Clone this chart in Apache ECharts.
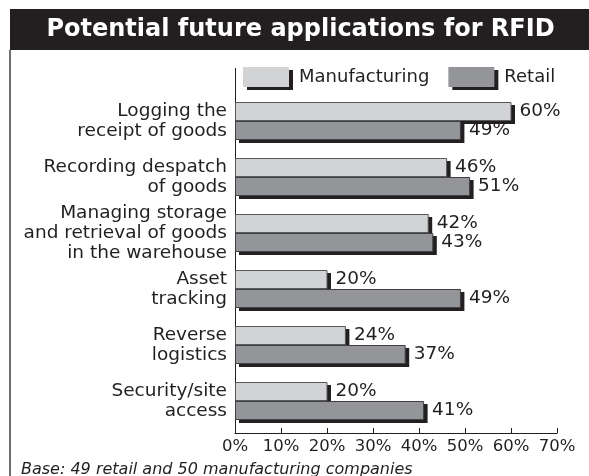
<!DOCTYPE html>
<html>
<head>
<meta charset="utf-8">
<script src="https://cdn.jsdelivr.net/npm/echarts@6/dist/echarts.min.js"></script>
<style>html,body{margin:0;padding:0;background:#fff;}#c{width:589px;height:476px;}</style>
</head>
<body>
<div id="c"></div>
<script>
const categories = [
  'Logging the\nreceipt of goods',
  'Recording despatch\nof goods',
  'Managing storage\nand retrieval of goods\nin the warehouse',
  'Asset\ntracking',
  'Reverse\nlogistics',
  'Security/site\naccess'
];
const manufacturing = [60, 46, 42, 20, 24, 20];
const retail = [49, 51, 43, 49, 37, 41];
const seriesNames = ['Manufacturing', 'Retail'];
const xTicks = { min: 0, max: 70, interval: 10 };
const titleText = 'Potential future applications for RFID';
const footnote = 'Base: 49 retail and 50 manufacturing companies';

const FONT = 'DejaVu Sans';
const INK = '#231f20';
const BAR_H = 19;
const colors = ['#d1d3d4', '#939598'];
const strokes = ['#58595b', '#414042'];

function makeRender(idx) {
  return function (params, api) {
    const val = api.value(0);
    const cat = api.value(1);
    const p0 = api.coord([0, cat]);
    const p1 = api.coord([val, cat]);
    const y = idx === 0 ? p0[1] - BAR_H : p0[1];
    const w = p1[0] - p0[0];
    return {
      type: 'group',
      children: [
        { type: 'rect', shape: { x: p0[0] + 4, y: y + 3, width: w, height: BAR_H }, style: { fill: INK } },
        {
          type: 'rect',
          shape: { x: p0[0] + 0.5, y: y + 0.5, width: w - 0.5, height: BAR_H - 1 },
          style: { fill: colors[idx], stroke: strokes[idx], lineWidth: 1 },
          textContent: { style: { text: val + '%', fill: INK, font: '18.5px "DejaVu Sans"' } },
          textConfig: { position: 'right', distance: 8 }
        }
      ]
    };
  };
}

const chart = echarts.init(document.getElementById('c'), null, { renderer: 'canvas' });
chart.setOption({
  animation: false,
  backgroundColor: '#fff',
  textStyle: { fontFamily: FONT },
  grid: { left: 235, right: 32, top: 93, height: 336, containLabel: false },
  legend: {
    left: 243, top: 67, padding: 0,
    itemWidth: 46, itemHeight: 20, itemGap: 19,
    icon: 'rect',
    textStyle: { color: INK, fontFamily: FONT, fontSize: 18, padding: [0, 0, 0, 5] },
    data: seriesNames,
    itemStyle: { borderWidth: 0, shadowColor: INK, shadowBlur: 0, shadowOffsetX: 4, shadowOffsetY: 3 }
  },
  xAxis: {
    type: 'value', min: xTicks.min, max: xTicks.max, interval: xTicks.interval,
    offset: 4,
    axisLine: { show: true, lineStyle: { color: INK, width: 1 } },
    axisTick: { show: true, inside: true, length: 5, lineStyle: { color: INK } },
    axisLabel: { formatter: '{value}%', color: INK, fontFamily: FONT, fontSize: 16.5, margin: 5 },
    splitLine: { show: false }
  },
  yAxis: {
    type: 'category', inverse: true, data: categories,
    axisLine: { show: false }, axisTick: { show: false },
    axisLabel: { color: INK, fontFamily: FONT, fontSize: 18.5, lineHeight: 20, margin: 8, align: 'right' }
  },
  series: [
    {
      name: seriesNames[0], type: 'custom',
      data: manufacturing.map((v, i) => [v, i]),
      encode: { x: 0, y: 1 },
      itemStyle: { color: colors[0] },
      renderItem: makeRender(0)
    },
    {
      name: seriesNames[1], type: 'custom',
      data: retail.map((v, i) => [v, i]),
      encode: { x: 0, y: 1 },
      itemStyle: { color: colors[1] },
      renderItem: makeRender(1)
    }
  ],
  graphic: [
    { type: 'rect', shape: { x: 10, y: 9, width: 579, height: 41 }, style: { fill: INK }, silent: true },
    { type: 'text', x: 300.5, y: 30, style: { text: titleText, fill: '#fff', font: 'bold 24px "DejaVu Sans"', textAlign: 'center', textVerticalAlign: 'middle' } },
    { type: 'line', shape: { x1: 10, y1: 50, x2: 10, y2: 476 }, style: { stroke: '#6d6e71', lineWidth: 2 } },
    { type: 'line', shape: { x1: 235.5, y1: 68, x2: 235.5, y2: 433 }, style: { stroke: INK, lineWidth: 1 } },
    { type: 'text', x: 21, y: 470, style: { text: footnote, fill: INK, font: 'italic 16px "DejaVu Sans"', textAlign: 'left', textVerticalAlign: 'middle' } }
  ]
});
</script>
</body>
</html>
